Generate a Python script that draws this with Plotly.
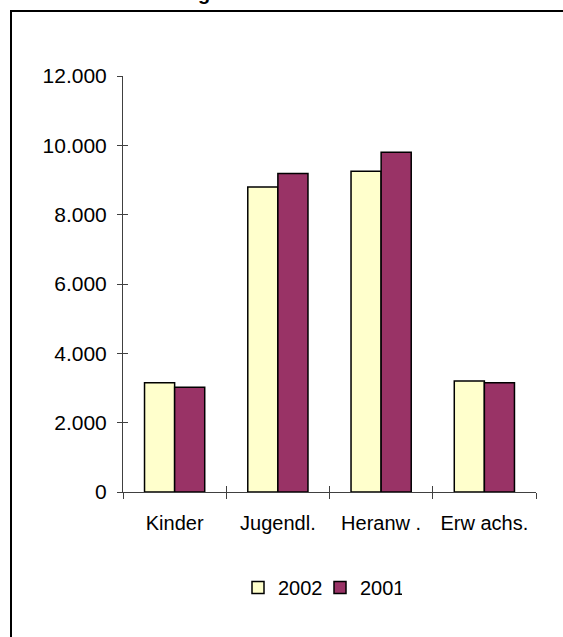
import plotly.graph_objects as go

# Age groups and case counts per year
categories = ["Kinder", "Jugendl.", "Heranw .", "Erw achs."]
values_2002 = [3150, 8800, 9250, 3200]
values_2001 = [3020, 9190, 9800, 3150]
series_names = ["2002", "2001"]
y_tick_values = [0, 2000, 4000, 6000, 8000, 10000, 12000]
y_tick_labels = ["0", "2.000", "4.000", "6.000", "8.000", "10.000", "12.000"]

W, H = 563, 637
L, R, T, B = 123, 27, 76, 144.5
pw, ph = W - L - R, H - T - B

def px_x(p):
    return (p - L) / pw

def px_y(p):
    return (H - B - p) / ph

FONT = "Liberation Sans, Arial, sans-serif"
AXIS_COLOR = "#404040"

fig = go.Figure()
fig.add_trace(go.Bar(
    name=series_names[0], x=categories, y=values_2002,
    marker=dict(color="#FFFFCC", line=dict(color="black", width=1.5)),
))
fig.add_trace(go.Bar(
    name=series_names[1], x=categories, y=values_2001,
    marker=dict(color="#993366", line=dict(color="black", width=1.5)),
))
# empty helper trace so the overlay axes (inner half of the cross ticks) are drawn
fig.add_trace(go.Scatter(x=[None], y=[None], xaxis="x2", yaxis="y2",
                         showlegend=False, hoverinfo="skip"))

fig.update_layout(
    width=W, height=H,
    margin=dict(l=L, r=R, t=T, b=B, pad=0),
    paper_bgcolor="white", plot_bgcolor="white",
    font=dict(family=FONT, size=20, color="black"),
    barmode="group", bargap=0.417, bargroupgap=0,
    showlegend=True,
    legend=dict(orientation="h", x=px_x(320), y=px_y(588),
                xanchor="center", yanchor="middle",
                font=dict(size=20), itemwidth=30,
                entrywidth=37, entrywidthmode="pixels",
                bgcolor="rgba(0,0,0,0)", traceorder="normal"),
    xaxis=dict(
        type="category", tickson="boundaries", ticks="outside", ticklen=6,
        tickcolor=AXIS_COLOR, showline=True, linecolor=AXIS_COLOR, linewidth=1,
        showgrid=False, zeroline=False, tickfont=dict(size=20),
        ticklabelstandoff=13,
    ),
    yaxis=dict(
        range=[0, 12000], tickvals=y_tick_values, ticktext=y_tick_labels,
        ticks="outside", ticklen=5, tickcolor=AXIS_COLOR,
        showline=True, linecolor=AXIS_COLOR, linewidth=1,
        showgrid=False, zeroline=False, tickfont=dict(size=21),
        ticklabelstandoff=6,
    ),
    xaxis2=dict(
        overlaying="x", range=[-0.5, 3.5], tickvals=[0.5, 1.5, 2.5, 3.5],
        ticks="inside", ticklen=6, tickcolor=AXIS_COLOR,
        showticklabels=False, showgrid=False, zeroline=False, showline=False,
    ),
    yaxis2=dict(
        overlaying="y", range=[0, 12000], tickvals=y_tick_values,
        ticks="inside", ticklen=5, tickcolor=AXIS_COLOR, side="left",
        showticklabels=False, showgrid=False, zeroline=False, showline=False,
    ),
    shapes=[dict(
        type="rect", xref="paper", yref="paper",
        x0=px_x(11), x1=px_x(575), y0=px_y(650), y1=px_y(11),
        line=dict(color="black", width=2), fillcolor="rgba(0,0,0,0)",
        layer="above",
    )],
    annotations=[dict(
        text="<b>g</b>", xref="paper", yref="paper",
        x=px_x(204), y=px_y(-7), xanchor="center", yanchor="middle",
        showarrow=False, font=dict(size=20, family=FONT),
    )],
)

fig.write_html("out.html")
